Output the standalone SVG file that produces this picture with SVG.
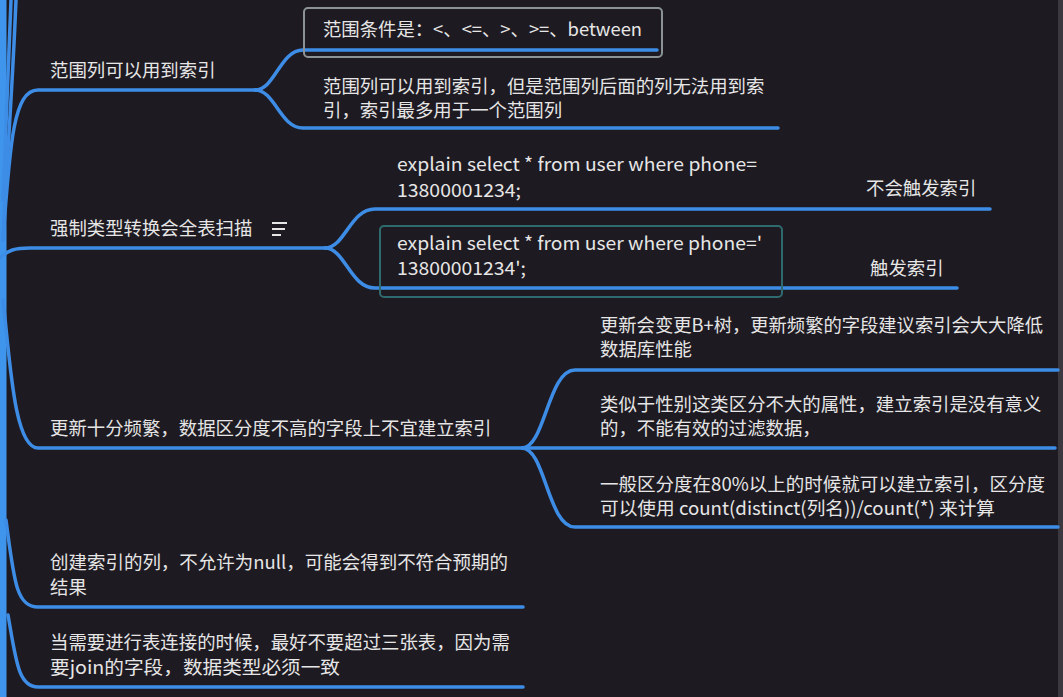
<svg xmlns="http://www.w3.org/2000/svg" width="1063" height="697" viewBox="0 0 1063 697">
<style>
.t{font-family:"Noto Sans CJK SC","Noto Sans",sans-serif;font-size:18.4px;fill:#e6e6e6}
.c{fill:none;stroke:#3d8de6;stroke-width:3.5;stroke-linecap:round}
.trunk{fill:none;stroke:#3f95ec;stroke-width:7}
</style>
<rect width="1063" height="697" fill="#1e1a21"/>
<rect x="1058" y="0" width="5" height="697" fill="#3b393f"/>
<g id="connectors">
<path class="trunk" d="M 3,0 L 3,697"/>
<path class="c" d="M 16,0 C 12,100 6,170 3,240"/>
<path class="c" d="M 11,0 C 8,80 5,150 3,200"/>
<path class="c" d="M 3,240 C 10,140 14,90 38,90 L 255,90"/>
<path class="c" d="M 0,258 C 8,250 15,248 30,248 L 325,248"/>
<path class="c" d="M 3,300 C 10,360 14,448 38,448 L 1055,448"/>
<path class="c" d="M 6,520 C 14,580 16,607 38,607 L 523,607"/>
<path class="c" d="M 8,615 C 16,660 18,687 38,687 L 523,687"/>
<path class="c" d="M 255,90 C 275,90 280,50 303,50 L 657,50"/>
<path class="c" d="M 255,90 C 275,90 280,128 303,128 L 778,128"/>
<path class="c" d="M 325,248 C 345,248 350,209 375,209 L 990,209"/>
<path class="c" d="M 325,248 C 345,248 350,288 375,288 L 957,288"/>
<path class="c" d="M 522,448 C 545,448 548,370 575,370 L 1058,370"/>
<path class="c" d="M 522,448 C 545,448 548,527 575,527 L 1058,527"/>
</g>
<g id="n-range">
<text class="t" x="50" y="77">范围列可以用到索引</text>
</g>
<g id="n-range-cond">
<rect x="304" y="8" width="358" height="49" rx="4" fill="none" stroke="#8b9396" stroke-width="2"/>
<text class="t" x="323" y="36" textLength="319" lengthAdjust="spacingAndGlyphs">范围条件是：&lt;、&lt;=、&gt;、&gt;=、between</text>
</g>
<g id="n-range-desc">
<text class="t" x="323" y="93">范围列可以用到索引，但是范围列后面的列无法用到索</text>
<text class="t" x="323" y="117">引，索引最多用于一个范围列</text>
</g>
<g id="n-cast">
<text class="t" x="50" y="235">强制类型转换会全表扫描</text>
<g stroke="#e6e6e6" stroke-width="2">
<line x1="272" y1="223" x2="287" y2="223"/>
<line x1="272" y1="229" x2="285" y2="229"/>
<line x1="272" y1="235" x2="281" y2="235"/>
</g>
</g>
<g id="n-cast-1">
<text class="t" x="397" y="171" textLength="360" lengthAdjust="spacingAndGlyphs">explain select * from user where phone=</text>
<text class="t" x="397" y="197" textLength="124" lengthAdjust="spacingAndGlyphs">13800001234;</text>
<text class="t" x="866" y="195">不会触发索引</text>
</g>
<g id="n-cast-2">
<rect x="380" y="226" width="402" height="71" rx="4" fill="none" stroke="#2f6b6e" stroke-width="2"/>
<text class="t" x="397" y="250" textLength="365" lengthAdjust="spacingAndGlyphs">explain select * from user where phone='</text>
<text class="t" x="397" y="275" textLength="129" lengthAdjust="spacingAndGlyphs">13800001234';</text>
<text class="t" x="870" y="275">触发索引</text>
</g>
<g id="n-update">
<text class="t" x="50" y="435">更新十分频繁，数据区分度不高的字段上不宜建立索引</text>
</g>
<g id="n-update-1">
<text class="t" x="600" y="332" textLength="443" lengthAdjust="spacingAndGlyphs">更新会变更B+树，更新频繁的字段建议索引会大大降低</text>
<text class="t" x="600" y="356">数据库性能</text>
</g>
<g id="n-update-2">
<text class="t" x="600" y="411">类似于性别这类区分不大的属性，建立索引是没有意义</text>
<text class="t" x="600" y="435">的，不能有效的过滤数据，</text>
</g>
<g id="n-update-3">
<text class="t" x="600" y="491" textLength="445" lengthAdjust="spacingAndGlyphs">一般区分度在80%以上的时候就可以建立索引，区分度</text>
<text class="t" x="600" y="515" textLength="395" lengthAdjust="spacingAndGlyphs">可以使用 count(distinct(列名))/count(*) 来计算</text>
</g>
<g id="n-null">
<text class="t" x="50" y="569" textLength="458" lengthAdjust="spacingAndGlyphs">创建索引的列，不允许为null，可能会得到不符合预期的</text>
<text class="t" x="50" y="594">结果</text>
</g>
<g id="n-join">
<text class="t" x="50" y="649">当需要进行表连接的时候，最好不要超过三张表，因为需</text>
<text class="t" x="50" y="674" textLength="290" lengthAdjust="spacingAndGlyphs">要join的字段，数据类型必须一致</text>
</g>
</svg>
